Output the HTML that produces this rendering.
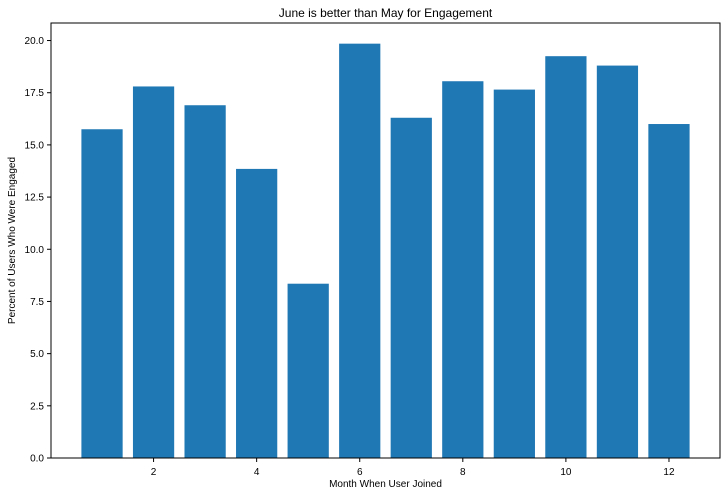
<!DOCTYPE html>
<html><head><meta charset="utf-8"><style>
body{margin:0;background:#fff;font-family:"Liberation Sans",sans-serif;}
svg text{font-family:"Liberation Sans",sans-serif;fill:#000;}
</style></head><body>
<svg id="chart" width="727" height="496"></svg>
<script>
const months=[1,2,3,4,5,6,7,8,9,10,11,12];
const engaged=[15.75,17.8,16.9,13.85,8.35,19.85,16.3,18.05,17.65,19.25,18.8,16.0];
const xTicks=[2,4,6,8,10,12];
const yTicks=[0,2.5,5,7.5,10,12.5,15,17.5,20];
const NS='http://www.w3.org/2000/svg';
const svg=document.getElementById('chart');
const L=51,R=720,T=23,B=458;
const xMin=0.01,xMax=12.99,yMax=20.84;
const xs=v=>L+(v-xMin)/(xMax-xMin)*(R-L);
const ys=v=>B-v/yMax*(B-T);
function mk(tag,attrs,txt){const e=document.createElementNS(NS,tag);for(const k in attrs)e.setAttribute(k,attrs[k]);if(txt!==undefined)e.textContent=txt;svg.appendChild(e);return e;}
months.forEach((m,i)=>{
  const x0=xs(m-0.4),x1=xs(m+0.4);
  const b=mk('rect',{x:x0,y:ys(engaged[i]),width:x1-x0,height:B-ys(engaged[i]),fill:'#1f77b4'});
  
  
});
const frame=mk('rect',{x:L,y:T,width:R-L,height:B-T,fill:'none',stroke:'#000','stroke-width':1});


xTicks.forEach(t=>{
  const x=xs(t);
  mk('line',{x1:x,x2:x,y1:B,y2:B+4,stroke:'#000'});
  const tx=mk('text',{x:x,y:B+17,'font-size':10,'text-anchor':'middle'},String(t));
  
  
});
yTicks.forEach(t=>{
  const y=ys(t);
  mk('line',{x1:L-4,x2:L,y1:y,y2:y,stroke:'#000'});
  const tx=mk('text',{x:L-7,y:y+3.5,'font-size':10,'text-anchor':'end'},t.toFixed(1));
  
  
});
const title=mk('text',{x:(L+R)/2,y:17,'font-size':12,'text-anchor':'middle'},'June is better than May for Engagement');


const xl=mk('text',{x:(L+R)/2,y:487,'font-size':10,'text-anchor':'middle'},'Month When User Joined');


const yl=mk('text',{x:0,y:0,'font-size':10,'text-anchor':'middle',transform:'translate(15,'+((T+B)/2)+') rotate(-90)'},'Percent of Users Who Were Engaged');


</script>
</body></html>
